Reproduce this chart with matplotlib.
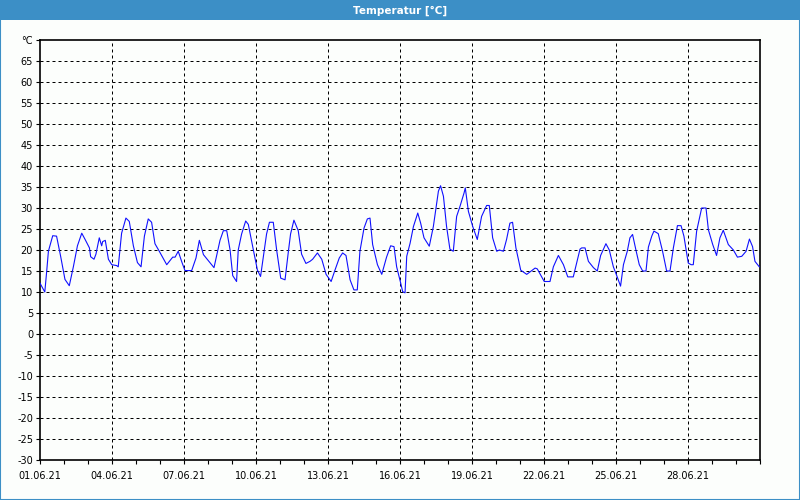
import datetime as dt
import matplotlib
matplotlib.use("Agg")
import matplotlib.pyplot as plt
import matplotlib.dates as mdates
from matplotlib.patches import Rectangle

# Zeitpunkte in Tagen ab 01.06.21 und Temperatur in °C
tage = [0.0, 0.2, 0.28, 0.35, 0.53, 0.69, 0.86, 1.04, 1.22, 1.39, 1.56, 1.74,
        1.88, 2.06, 2.11, 2.25, 2.33, 2.47, 2.57, 2.61, 2.72, 2.85, 2.99, 3.19,
        3.26, 3.4, 3.58, 3.72, 3.89, 4.06, 4.21, 4.35, 4.51, 4.65, 4.79, 4.97,
        5.28, 5.53, 5.63, 5.76, 5.9, 6.04, 6.32, 6.5, 6.64, 6.81, 7.01, 7.25,
        7.5, 7.64, 7.78, 7.92, 8.03, 8.19, 8.26, 8.4, 8.57, 8.68, 8.89, 9.06,
        9.19, 9.31, 9.44, 9.56, 9.72, 9.86, 10.03, 10.21, 10.35, 10.44, 10.58,
        10.76, 10.9, 11.08, 11.25, 11.36, 11.56, 11.74, 11.92, 12.13, 12.29,
        12.47, 12.61, 12.75, 12.92, 13.08, 13.22, 13.33, 13.5, 13.64, 13.75,
        13.86, 14.06, 14.24, 14.44, 14.61, 14.75, 14.86, 15.03, 15.11, 15.21,
        15.28, 15.42, 15.56, 15.74, 15.86, 16.0, 16.22, 16.39, 16.6, 16.69,
        16.81, 16.94, 17.08, 17.22, 17.36, 17.5, 17.67, 17.72, 17.85, 18.03,
        18.22, 18.4, 18.61, 18.72, 18.86, 19.03, 19.14, 19.31, 19.44, 19.58,
        19.69, 19.83, 20.03, 20.28, 20.63, 20.72, 21.01, 21.25, 21.39, 21.6,
        21.81, 21.99, 22.22, 22.5, 22.57, 22.71, 22.85, 23.06, 23.22, 23.36,
        23.58, 23.72, 23.89, 24.03, 24.19, 24.31, 24.47, 24.58, 24.69, 24.83,
        24.97, 25.11, 25.25, 25.35, 25.49, 25.58, 25.76, 25.94, 26.11, 26.25,
        26.39, 26.56, 26.71, 26.83, 27.01, 27.13, 27.22, 27.36, 27.57, 27.75,
        27.85, 28.03, 28.19, 28.33, 28.47, 28.68, 28.89, 29.06, 29.24, 29.42,
        29.56, 29.69, 29.79, 29.97]
temperatur = [12.1, 10.0, 15.0, 19.7, 23.4, 23.3, 18.5, 13.0, 11.5, 16.0, 21.0,
              24.0, 22.5, 20.5, 18.4, 17.8, 19.0, 22.9, 21.0, 22.0, 22.3, 17.8,
              16.5, 16.3, 16.0, 24.0, 27.6, 26.8, 21.0, 17.0, 16.0, 23.3, 27.4,
              26.6, 21.5, 19.7, 16.5, 18.3, 18.3, 19.7, 17.3, 15.1, 15.1, 18.1,
              22.3, 18.9, 17.5, 15.8, 22.3, 24.6, 24.6, 20.0, 13.9, 12.5, 20.0,
              23.8, 26.9, 26.1, 20.0, 15.2, 13.7, 18.5, 23.8, 26.6, 26.6, 20.0,
              13.3, 12.9, 19.7, 23.8, 27.1, 24.6, 19.0, 16.8, 17.3, 17.8, 19.3,
              17.8, 14.2, 12.5, 15.2, 18.1, 19.3, 18.7, 12.9, 10.5, 10.5, 19.7,
              25.2, 27.4, 27.6, 21.3, 16.5, 14.2, 18.3, 21.0, 20.8, 16.0, 12.1,
              10.1, 9.8, 18.5, 21.6, 25.6, 28.8, 26.4, 22.9, 20.9, 25.6, 34.0,
              35.3, 32.8, 25.6, 20.2, 19.7, 28.0, 30.4, 33.6, 34.8, 29.2, 25.6,
              22.5, 28.0, 30.6, 30.6, 22.9, 19.7, 20.0, 19.7, 22.5, 26.4, 26.6,
              20.5, 15.2, 14.2, 15.7, 15.5, 12.5, 12.5, 16.0, 18.7, 16.5, 13.6,
              13.6, 20.2, 20.5, 20.5, 17.3, 15.8, 15.0, 18.7, 21.5, 20.0, 16.0,
              13.9, 11.4, 16.5, 19.7, 22.9, 23.7, 20.0, 16.5, 15.0, 15.0, 20.7,
              23.3, 24.5, 23.9, 19.7, 15.0, 15.0, 20.5, 25.8, 25.8, 23.3, 16.9,
              16.5, 16.5, 24.5, 30.0, 30.0, 24.8, 21.3, 18.7, 22.9, 24.7, 21.3,
              20.0, 18.3, 18.5, 19.7, 22.6, 20.8, 17.3, 16.0]

start = dt.datetime(2021, 6, 1)
ende = dt.datetime(2021, 7, 1)
zeit = [start + dt.timedelta(days=d) for d in tage]
haupt_ticks = [start + dt.timedelta(days=d) for d in range(0, 30, 3)]

blau = '#3c8fc6'
hg = '#fcfefc'

fig = plt.figure(figsize=(8, 5), dpi=100, facecolor=hg)
ax = fig.add_axes([0.05, 0.08, 0.90, 0.84], facecolor=hg)

# Titelleiste und Rahmen
fig.patches.append(Rectangle((0, 0.96), 1, 0.04, transform=fig.transFigure,
                             facecolor=blau, edgecolor='none', zorder=0))
fig.patches.append(Rectangle((0.0006, 0.001), 0.9988, 0.998, transform=fig.transFigure,
                             facecolor='none', edgecolor=blau, linewidth=1.5, zorder=1))
fig.text(0.5, 0.979, 'Temperatur [°C]', color='white', fontsize=7.5, fontweight='bold',
         ha='center', va='center')

ax.plot(zeit, temperatur, color='#1010ff', linewidth=0.8, zorder=3)

ax.set_xlim(start, ende)
ax.set_ylim(-30, 70)

yticks = list(range(-30, 71, 5))
ax.set_yticks(yticks)
ax.set_yticklabels([str(v) for v in yticks[:-1]] + ['°C'])

ax.set_xticks(haupt_ticks)
ax.xaxis.set_minor_locator(mdates.DayLocator())
ax.xaxis.set_major_formatter(mdates.DateFormatter('%d.%m.%y'))

ax.tick_params(axis='both', which='both', labelsize=7, colors='black', width=0.8)
ax.tick_params(axis='x', which='major', length=3, pad=5)
ax.tick_params(axis='x', which='minor', length=3)
ax.tick_params(axis='y', length=3, pad=2)

for y in range(-25, 70, 5):
    ax.axhline(y, color='black', linewidth=0.72, linestyle=(0, (3, 3)), zorder=1)
for d in range(3, 30, 3):
    ax.axvline(start + dt.timedelta(days=d), color='black', linewidth=0.72,
               linestyle=(0, (3, 3)), zorder=1)

for s in ax.spines.values():
    s.set_linewidth(1.2)
    s.set_color('black')

fig.savefig('out.png', dpi=100, facecolor=hg)
